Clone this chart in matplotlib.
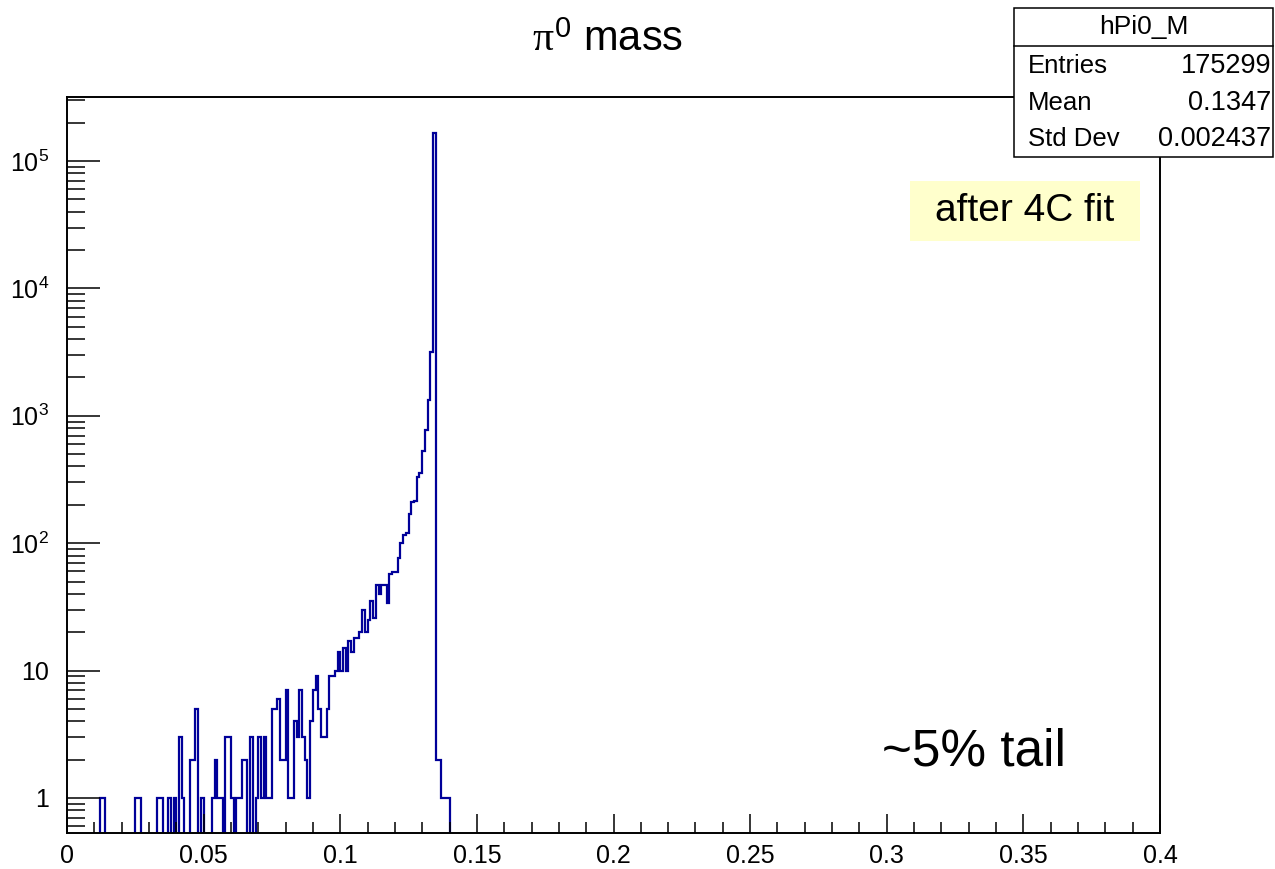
import numpy as np
import matplotlib
matplotlib.use("Agg")
import matplotlib.pyplot as plt
from matplotlib.patches import Rectangle
from matplotlib.ticker import FixedLocator, NullFormatter

plt.rcParams['font.family'] = ['Liberation Sans', 'DejaVu Sans']
plt.rcParams['mathtext.fontset'] = 'custom'
plt.rcParams['mathtext.rm'] = 'Liberation Sans'
plt.rcParams['mathtext.it'] = 'Liberation Serif'
plt.rcParams['mathtext.bf'] = 'Liberation Sans:bold'

# ---- histogram hPi0_M : 400 bins of 1 MeV between 0 and 0.4 GeV ----
n_bins = 400
x_lo, x_hi = 0.0, 0.4

low_first_bin = 10          # first bin of low_counts (0.010 GeV)
low_counts = [0, 0, 1, 1, 0, 0, 0, 0, 0, 0,
              0, 0, 0, 0, 0, 1, 1, 0, 0, 0,
              0, 0, 0, 1, 1, 0, 0, 1, 0, 1,
              0, 3, 1, 0, 0, 2, 2, 5, 0, 1,
              0, 0, 0, 1, 2, 1, 1, 0, 3, 3,
              1, 0, 1, 1, 2, 2, 0, 3, 0, 1,
              3, 1, 3, 1, 1, 5, 5, 6, 2, 2]

rise_first_bin = 80         # first bin of rise_counts (0.080 GeV)
rise_counts = [7, 1, 1, 4, 3, 7, 3, 2, 1, 4,
               7, 9, 5, 3, 3, 5, 9, 9, 10, 14,
               10, 15, 10, 17, 14, 18, 18, 20, 30, 20,
               25, 35, 26, 47, 40, 47, 47, 34, 57, 59,
               59, 76, 101, 116, 121, 170, 210, 215, 330, 355,
               530, 770, 1320, 3150]

peak_bin = 134
peak_count = 166998

high_first_bin = 135
high_counts = [2, 2, 1, 1, 1]

stat_name = "hPi0_M"
stat_labels = ["Entries", "Mean", "Std Dev"]
stat_values = ["175299", "0.1347", "0.002437"]

x_major = [0, 0.05, 0.1, 0.15, 0.2, 0.25, 0.3, 0.35, 0.4]
x_major_labels = ["0", "0.05", "0.1", "0.15", "0.2", "0.25", "0.3", "0.35", "0.4"]
y_major = [1, 10, 1e2, 1e3, 1e4, 1e5]
y_major_labels = ["1", "10", r"$\mathregular{10^{2}}$", r"$\mathregular{10^{3}}$",
                  r"$\mathregular{10^{4}}$", r"$\mathregular{10^{5}}$"]

# ---- fill the bin contents ----
counts = np.zeros(n_bins)
counts[low_first_bin:low_first_bin + len(low_counts)] = low_counts
counts[rise_first_bin:rise_first_bin + len(rise_counts)] = rise_counts
counts[peak_bin] = peak_count
counts[high_first_bin:high_first_bin + len(high_counts)] = high_counts
edges = np.linspace(x_lo, x_hi, n_bins + 1)

W, H = 1275, 869
fig = plt.figure(figsize=(W / 100, H / 100), dpi=100)


def fx(px):
    return px / W


def fy(py):
    return 1 - py / H


ax_l, ax_r, ax_t, ax_b = 67, 1160, 97, 833
ax = fig.add_axes([fx(ax_l), fy(ax_b), fx(ax_r - ax_l), (ax_b - ax_t) / H])

y_lo, y_hi = 0.531, 3.18e5
# empty bins are drawn at the floor of the log axis, as ROOT does
shown = np.where(counts > 0, counts, y_lo * 0.01)
ax.stairs(shown, edges, color="#000099", linewidth=1.6, baseline=None)

ax.set_yscale("log")
ax.set_xlim(x_lo, x_hi)
ax.set_ylim(y_lo, y_hi)

ax.xaxis.set_major_locator(FixedLocator(x_major))
ax.set_xticklabels(x_major_labels)
ax.xaxis.set_minor_locator(FixedLocator(np.arange(0, 0.4001, 0.01)))
ax.xaxis.set_minor_formatter(NullFormatter())

ax.yaxis.set_major_locator(FixedLocator(y_major))
ax.set_yticklabels(y_major_labels)
minors = [m * 10.0 ** d for d in range(-1, 6) for m in range(2, 10)]
ax.yaxis.set_minor_locator(FixedLocator(minors))
ax.yaxis.set_minor_formatter(NullFormatter())

ax.tick_params(axis="x", which="major", direction="in", length=14, width=1.1,
               labelsize=18, pad=8, top=False)
ax.tick_params(axis="x", which="minor", direction="in", length=8, width=1.1, top=False)
ax.tick_params(axis="y", which="major", direction="in", length=24, width=1.1,
               labelsize=18, pad=13, right=False)
ax.tick_params(axis="y", which="minor", direction="in", length=13, width=1.1, right=False)
for s in ax.spines.values():
    s.set_linewidth(1.4)
    s.set_color("black")

# title
fig.text(fx(608), fy(40), r"$\pi^{\mathregular{0}}$ mass", fontsize=30,
         ha="center", va="center")

# statistics box
sb_l, sb_t, sb_r, sb_b, sb_sep = 1014, 8, 1273, 157, 46
fig.add_artist(Rectangle((fx(sb_l), fy(sb_b)), fx(sb_r - sb_l), (sb_b - sb_t) / H,
                         transform=fig.transFigure, facecolor="white",
                         edgecolor="black", linewidth=1.1, zorder=5))
fig.add_artist(plt.Line2D([fx(sb_l), fx(sb_r)], [fy(sb_sep), fy(sb_sep)],
                          transform=fig.transFigure, color="black", linewidth=1.1,
                          zorder=6))
fig.text(fx((sb_l + sb_r) / 2), fy(27), stat_name, fontsize=19, ha="center",
         va="center", zorder=7)
for i, (lab, val) in enumerate(zip(stat_labels, stat_values)):
    yy = fy(66 + 36.5 * i)
    fig.text(fx(1028), yy, lab, fontsize=18.5, ha="left", va="center", zorder=7)
    fig.text(fx(1271), yy, val, fontsize=19.5, ha="right", va="center", zorder=7)

# annotations
fig.add_artist(Rectangle((fx(910), fy(241)), fx(230), 60 / H,
                         transform=fig.transFigure, facecolor="#FFFFCC",
                         edgecolor="none", zorder=4))
fig.text(fx(1025), fy(211), "after 4C fit", fontsize=28, ha="center",
         va="center", zorder=5)
fig.text(fx(882), fy(752), "~5% tail", fontsize=37, ha="left", va="center")

fig.savefig("out.png", dpi=100)
